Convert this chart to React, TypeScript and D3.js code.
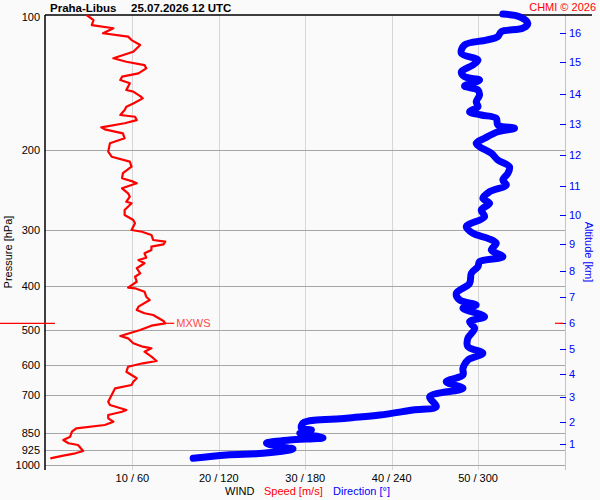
import React from "react";
import * as d3 from "d3";

const W = 600;
const H = 500;

const pressureLabels = [100, 200, 300, 400, 500, 600, 700, 850, 925, 1000];
const gridPressures = [200, 300, 400, 500, 600, 700, 850, 925, 1000];
const speedTicks = [10, 20, 30, 40, 50];
const directionTicks = [60, 120, 180, 240, 300];

const altitudeKm = [1, 2, 3, 4, 5, 6, 7, 8, 9, 10, 11, 12, 13, 14, 15, 16];
const altitudePressure = [898, 801, 706, 628, 551, 484, 423, 371, 323, 278, 240, 205, 175, 150, 127.4, 109.6];

const speedPressure = [
  100, 102.6, 105.3, 107.0, 109.8, 111.7, 113.7, 116.6, 120.7, 124.8, 127.0, 129.2, 131.4, 134.8, 137.1, 139.5,
  141.8, 146.8, 148.0, 151.4, 153.2, 157.2, 159.9, 162.6, 166.8, 168.3, 171.2, 174.0, 177.7, 179.5, 183.2, 187.9,
  192.8, 201.2, 206.5, 211.8, 217.3, 224.7, 230.6, 234.6, 236.6, 242.7, 249.0, 253.4, 260.0, 262.1, 271.2, 278.3,
  285.5, 290.3, 300.5, 303.1, 308.2, 316.2, 319.0, 323.3, 327.2, 332.8, 338.5, 346.2, 350.3, 356.2, 365.4, 375.0,
  381.6, 391.5, 403.6, 404.9, 412.0, 422.7, 429.9, 444.8, 452.4, 460.1, 464.1, 478.6, 484.3, 490.3, 501.2, 516.8,
  523.0, 536.5, 545.9, 550.4, 560.0, 574.6, 587.4, 594.3, 604.8, 620.5, 641.7, 653.0, 664.1, 675.4, 699.0, 723.4,
  735.7, 754.7, 761.4, 774.3, 787.6, 801.2, 814.9, 828.8, 843.3, 865.2, 879.9, 894.8, 902.7, 930.8, 941.9, 953.4,
  966.3,
];
const speedValues = [
  4.7, 5.5, 5.3, 7.8, 6.6, 9.5, 9.9, 10.9, 10.1, 7.8, 9.3, 11.4, 11.6, 10.7, 8.8, 8.6,
  9.7, 9.3, 10.1, 10.9, 11.2, 10.1, 9.3, 9.1, 8.6, 10.3, 10.5, 9.1, 6.4, 6.8, 8.9, 9.1,
  7.4, 7.2, 7.6, 9.7, 9.9, 8.9, 8.8, 10.1, 10.5, 8.8, 9.5, 9.7, 9.3, 9.9, 9.1, 9.1,
  10.1, 10.3, 9.9, 11.1, 12.2, 12.4, 13.8, 13.6, 12.2, 12.2, 11.4, 11.6, 10.7, 11.4, 10.5, 10.9,
  10.3, 10.5, 9.5, 10.3, 11.4, 11.6, 12.0, 10.7, 10.5, 11.4, 12.4, 13.6, 13.8, 12.2, 10.9, 8.6,
  9.5, 10.1, 11.2, 12.2, 11.4, 12.2, 12.8, 11.2, 9.5, 9.3, 10.5, 10.1, 9.9, 8.0, 7.6, 7.2,
  7.4, 9.3, 8.8, 7.2, 7.2, 7.8, 6.8, 3.5, 3.0, 2.8, 2.0, 2.6, 3.7, 4.3, 3.4, 2.0,
  0.5,
];

const dirPressure = [
  99.5, 100.9, 104.3, 107.0, 108.9, 111.7, 113.7, 116.6, 121.7, 125.9, 129.2, 133.7, 137.1, 139.5, 143.8, 146.8,
  150.6, 155.9, 159.9, 164.0, 166.8, 169.7, 175.6, 178.5, 181.7, 187.9, 192.8, 196.2, 202.9, 210.0, 217.3, 224.7,
  232.6, 238.6, 247.0, 255.5, 262.1, 271.2, 280.7, 295.4, 305.6, 313.6, 321.6, 332.8, 344.4, 353.3, 362.5, 375.0,
  394.7, 415.4, 429.9, 441.0, 448.5, 468.1, 480.4, 496.9, 523.0, 545.9, 564.6, 584.4, 609.8, 631, 653.0, 675.4,
  705.0, 742.0, 754.7, 774.3, 787.6, 806.4, 828.8, 836.0, 850.2, 869.6, 879.9, 894.8, 910.6, 921.4, 941.9, 950.0,
  966.3,
];
const dirValues = [
  317.2, 328.8, 334.5, 331.1, 316.1, 313.7, 305.7, 290.6, 288.4, 299.9, 296.4, 288.4, 290.6, 301.0, 290.6, 299.9,
  301.0, 298.7, 299.9, 294.1, 302.2, 312.6, 313.7, 325.3, 313.7, 304.5, 298.7, 301.0, 309.2, 313.7, 321.8, 320.7,
  317.2, 319.6, 308.0, 303.3, 308.0, 302.2, 304.5, 291.8, 296.4, 306.8, 312.6, 309.2, 317.2, 301.0, 299.9, 295.3,
  294.1, 284.9, 287.2, 298.7, 289.5, 304.5, 294.1, 297.6, 292.9, 292.9, 303.3, 292.9, 289.5, 289.5, 277.9, 289.5,
  266.4, 271.0, 254.8, 231.7, 208.6, 178.5, 177.4, 184.3, 176.2, 192.3, 169.2, 153.1, 162.3, 171.5, 150.7, 125.3,
  102.2,
];

const mxwsPressure = 484.3;
const mxwsSpeed = 13.8;

const FONT = "Arial, 'Liberation Sans', sans-serif";

export default function App() {
  const y = d3.scaleLog().domain([100, 1000]).range([15, 465]);
  const xs = d3.scaleLinear().domain([0, 60]).range([46, 564.5]);
  const xd = d3.scaleLinear().domain([0, 360]).range([46, 564.5]);

  const speedLine = d3
    .line<number>()
    .x((_, i) => xs(speedValues[i]))
    .y((p) => y(p))(speedPressure) as string;
  const dirLine = d3
    .line<number>()
    .curve(d3.curveCatmullRom.alpha(0.5))
    .x((_, i) => xd(dirValues[i]))
    .y((p) => y(p))(dirPressure) as string;

  const my = y(mxwsPressure);

  return (
    <div style={{ position: "absolute", left: 0, top: 0 }}>
      <svg width={W} height={H} style={{ display: "block", fontFamily: FONT }}>
        <rect x={0} y={0} width={W} height={H} fill="#fafafa" />
        {speedTicks.map((s) => (
          <line key={"v" + s} x1={Math.round(xs(s)) + 0.5} x2={Math.round(xs(s)) + 0.5} y1={15} y2={470} stroke="#d6d6d6" strokeWidth={1} />
        ))}
        {gridPressures.map((p) => (
          <line key={"h" + p} x1={45} x2={565.5} y1={Math.round(y(p)) + 0.5} y2={Math.round(y(p)) + 0.5} stroke="#a6a6a6" strokeWidth={1} />
        ))}
        <line x1={565.5} x2={565.5} y1={15} y2={470} stroke="#c4c4c4" strokeWidth={1} />
        <line x1={45} x2={45} y1={15} y2={470} stroke="#000" strokeWidth={1.5} />
        <line x1={45} x2={592} y1={15} y2={15} stroke="#000" strokeWidth={1.5} />

        {pressureLabels.map((p) => (
          <text key={"pl" + p} x={40} y={p === 100 ? 21 : y(p) + 4} fontSize={11} textAnchor="end" fill="#000">
            {p}
          </text>
        ))}
        <text transform="translate(12,252) rotate(-90)" fontSize={11} textAnchor="middle" fill="#000">
          Pressure [hPa]
        </text>

        {speedTicks.map((s, i) => (
          <text key={"bl" + s} x={xs(s)} y={482} fontSize={11} textAnchor="middle" fill="#000">
            {`${s} / ${directionTicks[i]}`}
          </text>
        ))}
        <text x={225} y={495} fontSize={11} fill="#000">WIND</text>
        <text x={264} y={495} fontSize={11} fill="#ff0000">Speed [m/s]</text>
        <text x={333} y={495} fontSize={11} fill="#0000ff">Direction [°]</text>

        {altitudeKm.map((k, i) => (
          <g key={"alt" + k}>
            <line x1={560} x2={566} y1={Math.round(y(altitudePressure[i])) + 0.5} y2={Math.round(y(altitudePressure[i])) + 0.5} stroke="#0000ff" strokeWidth={1} />
            <text x={569} y={y(altitudePressure[i]) + 4} fontSize={11} fill="#0000ff">
              {k}
            </text>
          </g>
        ))}
        <text transform="translate(585,252) rotate(90)" fontSize={11} textAnchor="middle" fill="#0000ff">
          Altitude [km]
        </text>

        <path d={dirLine} fill="none" stroke="#0000ff" strokeWidth={7} strokeLinejoin="round" strokeLinecap="round" />
        <path d={speedLine} fill="none" stroke="#ff0000" strokeWidth={2.2} strokeLinejoin="round" />

        <line x1={0} x2={55} y1={my} y2={my} stroke="#ff0000" strokeWidth={1.2} />
        <line x1={555} x2={563} y1={my} y2={my} stroke="#ff0000" strokeWidth={1.2} />
        <line x1={xs(mxwsSpeed)} x2={xs(mxwsSpeed) + 9} y1={my} y2={my} stroke="#ff0000" strokeWidth={1.2} />
        <text x={xs(mxwsSpeed) + 11} y={my + 4} fontSize={11} fill="#ff4a4a">MXWS</text>

        <text x={50} y={12} fontSize={11.5} fontWeight="bold" fill="#000">Praha-Libus</text>
        <text x={131} y={12} fontSize={11.5} fontWeight="bold" fill="#000">25.07.2026 12 UTC</text>
        <text x={596} y={11} fontSize={11} textAnchor="end" fill="#ff0000">CHMI © 2026</text>
      </svg>
    </div>
  );
}
